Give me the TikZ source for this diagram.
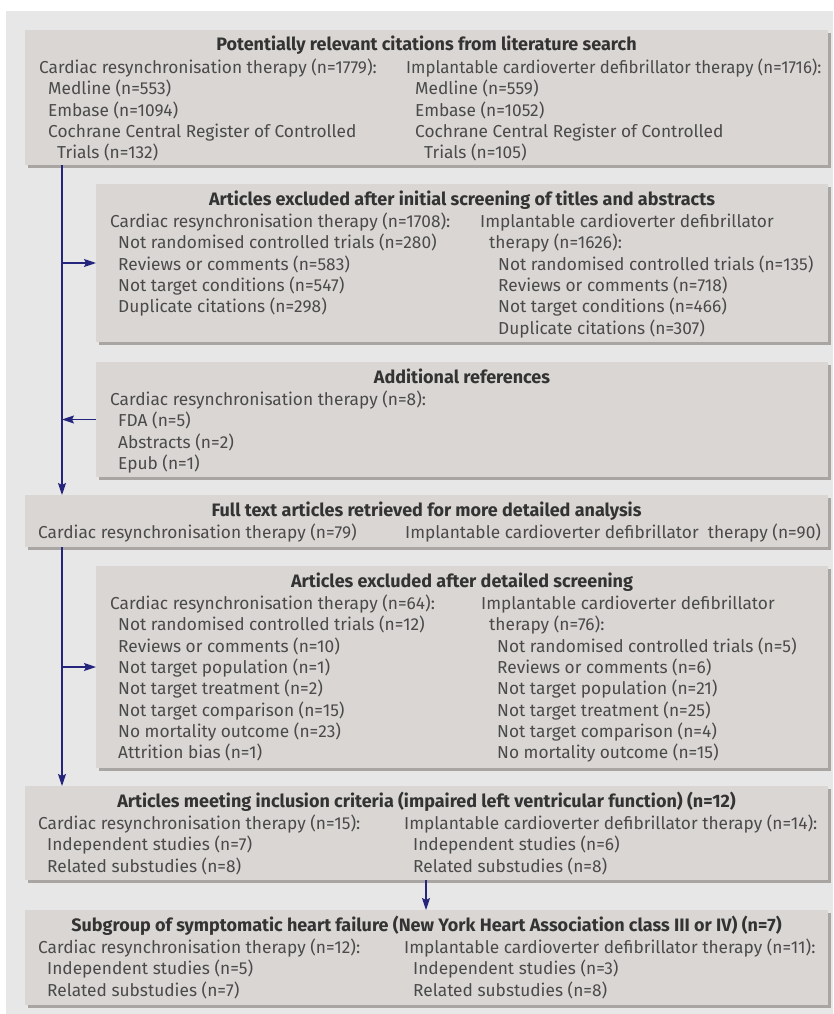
\documentclass[tikz,border=0pt]{standalone}
\usepackage{fontspec}
\setmainfont{Fira Sans}
\usetikzlibrary{arrows.meta,shadows}
\definecolor{bgc}{HTML}{E7E7E7}
\definecolor{boxc}{HTML}{D9D6D3}
\definecolor{shc}{HTML}{A8A5A3}
\definecolor{navy}{HTML}{25257E}
\definecolor{txtc}{HTML}{4A4A4A}
\definecolor{hdc}{HTML}{333333}
\newcommand\colx[1]{\begin{tabular}[t]{@{}l@{}}#1\end{tabular}}
\begin{document}
\begin{tikzpicture}[x=1pt,y=-1pt,
  fbox/.style={anchor=north west, fill=boxc, inner sep=0pt, outer sep=0pt,
    drop shadow={shadow xshift=3pt, shadow yshift=-3pt, fill=shc, opacity=1}},
  fhead/.style={anchor=base, inner sep=0pt, text=hdc, font=\fontsize{18}{21.3}\selectfont\bfseries},
  fcol/.style={anchor=base west, inner sep=0pt, text=txtc, font=\fontsize{17.3}{21.3}\selectfont},
  farr/.style={draw=navy, line width=1.4pt, -{Stealth[length=12pt,width=8pt,inset=2pt]}}]
\useasboundingbox (0,0) rectangle (833,1014);
\fill[bgc] (6,11) rectangle (833,1014);
% boxes
\node[fbox, minimum width=803pt, minimum height=135pt] (b1) at (25,30) {};
\node[fbox, minimum width=732pt, minimum height=158pt] (b2) at (96,184) {};
\node[fbox, minimum width=732pt, minimum height=115pt] (b3) at (96,362) {};
\node[fbox, minimum width=803pt, minimum height=52pt] (b4) at (25,495) {};
\node[fbox, minimum width=732pt, minimum height=202pt] (b5) at (96,566) {};
\node[fbox, minimum width=803pt, minimum height=94pt] (b6) at (25,786) {};
\node[fbox, minimum width=803pt, minimum height=95pt] (b7) at (25,910) {};
% box 1
\node[fhead] (h1) at ([yshift=-21pt]b1.north) {Potentially relevant citations from literature search};
\node[fcol] (l1) at (39,73.5) {\colx{Cardiac resynchronisation therapy (n=1779):\\
\hspace*{9pt}Medline (n=553)\\
\hspace*{9pt}Embase (n=1094)\\
\hspace*{9pt}Cochrane Central Register of Controlled\\
\hspace*{18pt}Trials (n=132)}};
\node[fcol] (r1) at (406,73.5) {\colx{\scalebox{0.97}[1]{Implantable cardioverter defibrillator therapy (n=1716):}\\
\hspace*{9pt}Medline (n=559)\\
\hspace*{9pt}Embase (n=1052)\\
\hspace*{9pt}Cochrane Central Register of Controlled\\
\hspace*{18pt}Trials (n=105)}};
% box 2
\node[fhead] (h2) at ([yshift=-21pt]b2.north) {Articles excluded after initial screening of titles and abstracts};
\node[fcol] (l2) at (110,227.5) {\colx{Cardiac resynchronisation therapy (n=1708):\\
\hspace*{8pt}Not randomised controlled trials (n=280)\\
\hspace*{8pt}Reviews or comments (n=583)\\
\hspace*{8pt}Not target conditions (n=547)\\
\hspace*{8pt}Duplicate citations (n=298)}};
\node[fcol] (r2) at (480,227.5) {\colx{Implantable cardioverter defibrillator\\
\hspace*{9pt}therapy (n=1626):\\
\hspace*{18pt}Not randomised controlled trials (n=135)\\
\hspace*{18pt}Reviews or comments (n=718)\\
\hspace*{18pt}Not target conditions (n=466)\\
\hspace*{18pt}Duplicate citations (n=307)}};
% box 3
\node[fhead] (h3) at ([yshift=-21pt]b3.north) {Additional references};
\node[fcol] (l3) at (110,405.5) {\colx{Cardiac resynchronisation therapy (n=8):\\
\hspace*{8pt}FDA (n=5)\\
\hspace*{8pt}Abstracts (n=2)\\
\hspace*{8pt}Epub (n=1)}};
% box 4
\node[fhead] (h4) at ([yshift=-21pt]b4.north) {Full text articles retrieved for more detailed analysis};
\node[fcol] (l4) at (38,538.5) {Cardiac resynchronisation therapy (n=79)};
\node[fcol] (r4) at (405,538.5) {Implantable cardioverter defibrillator\ \ therapy (n=90)};
% box 5
\node[fhead] (h5) at ([yshift=-21pt]b5.north) {Articles excluded after detailed screening};
\node[fcol] (l5) at (110,609.5) {\colx{Cardiac resynchronisation therapy (n=64):\\
\hspace*{8pt}Not randomised controlled trials (n=12)\\
\hspace*{8pt}Reviews or comments (n=10)\\
\hspace*{8pt}Not target population (n=1)\\
\hspace*{8pt}Not target treatment (n=2)\\
\hspace*{8pt}Not target comparison (n=15)\\
\hspace*{8pt}No mortality outcome (n=23)\\
\hspace*{8pt}Attrition bias (n=1)}};
\node[fcol] (r5) at (481,609.5) {\colx{Implantable cardioverter defibrillator\\
\hspace*{8pt}therapy (n=76):\\
\hspace*{16pt}Not randomised controlled trials (n=5)\\
\hspace*{16pt}Reviews or comments (n=6)\\
\hspace*{16pt}Not target population (n=21)\\
\hspace*{16pt}Not target treatment (n=25)\\
\hspace*{16pt}Not target comparison (n=4)\\
\hspace*{16pt}No mortality outcome (n=15)}};
% box 6
\node[fhead] (h6) at ([yshift=-21pt]b6.north) {Articles meeting inclusion criteria (impaired left ventricular function) (n=12)};
\node[fcol] (l6) at (38,829.5) {\colx{Cardiac resynchronisation therapy (n=15):\\
\hspace*{9pt}Independent studies (n=7)\\
\hspace*{9pt}Related substudies (n=8)}};
\node[fcol] (r6) at (404,829.5) {\colx{Implantable cardioverter defibrillator therapy (n=14):\\
\hspace*{9pt}Independent studies (n=6)\\
\hspace*{9pt}Related substudies (n=8)}};
% box 7
\node[fhead] (h7) at ([yshift=-21pt]b7.north) {Subgroup of symptomatic heart failure (New York Heart Association class III or IV) (n=7)};
\node[fcol] (l7) at (38,953.5) {\colx{Cardiac resynchronisation therapy (n=12):\\
\hspace*{9pt}Independent studies (n=5)\\
\hspace*{9pt}Related substudies (n=7)}};
\node[fcol] (r7) at (404,953.5) {\colx{Implantable cardioverter defibrillator therapy (n=11):\\
\hspace*{9pt}Independent studies (n=3)\\
\hspace*{9pt}Related substudies (n=8)}};
% connectors
\coordinate (tr) at (62,0);
\coordinate (dn) at (426,0);
\draw[farr] (b1.south -| tr) -- (b4.north -| tr);
\draw[farr] (b4.south -| tr) -- (b6.north -| tr);
\draw[farr] (tr |- b2.west) -- (b2.west);
\draw[farr] (b3.west) -- (tr |- b3.west);
\draw[farr] (tr |- b5.west) -- (b5.west);
\draw[farr] (b6.south -| dn) -- (b7.north -| dn);
\end{tikzpicture}
\end{document}
